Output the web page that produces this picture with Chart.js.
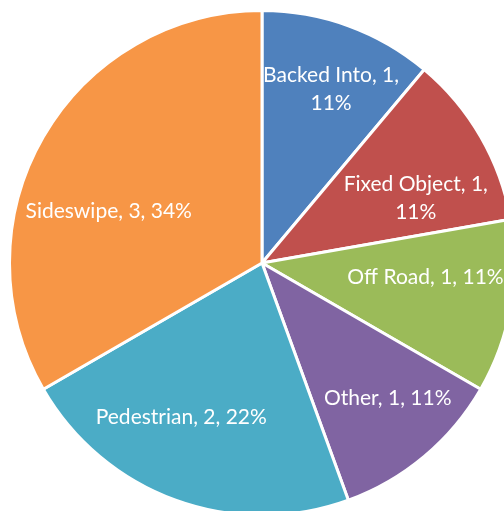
<!DOCTYPE html>
<html><head><meta charset="utf-8">
<script src="https://cdn.jsdelivr.net/npm/chart.js@4"></script>
<style>
html,body{margin:0;padding:0;overflow:hidden;background:#fff;width:504px;height:511px;position:relative}
#wrap{position:absolute;left:8px;top:9px;width:508px;height:508px}
</style></head>
<body><div id="wrap"><canvas id="c"></canvas></div>
<script>
const categories = ['Backed Into', 'Fixed Object', 'Off Road', 'Other', 'Pedestrian', 'Sideswipe'];
const counts = [1, 1, 1, 1, 2, 3];
const percentLabels = ['11%', '11%', '11%', '11%', '22%', '34%'];
const sliceColors = ['#4F81BD', '#C0504D', '#9BBB59', '#8064A2', '#4BACC6', '#F79646'];

// label placement relative to each slice (angle shift in degrees, radius fraction, wrap after value)
const labelLayout = [
  {da: 1.7, rf: 0.74, wrap: true},
  {da: 7.3, rf: 0.66, wrap: true},
  {da: -5, rf: 0.65, wrap: false},
  {da: -3, rf: 0.73, wrap: false},
  {da: 7.6, rf: 0.69, wrap: false},
  {da: -11.5, rf: 0.64, wrap: false}
];

const labelPlugin = {
  id: 'pieLabels',
  afterDatasetsDraw(chart) {
    const ctx = chart.ctx;
    const meta = chart.getDatasetMeta(0);
    ctx.save();
    ctx.font = '21px Lato';
    ctx.fillStyle = '#ffffff';
    ctx.textAlign = 'center';
    ctx.textBaseline = 'middle';
    meta.data.forEach((arc, i) => {
      const p = arc.getProps(['x', 'y', 'startAngle', 'endAngle', 'outerRadius'], true);
      const L = labelLayout[i];
      const mid = (p.startAngle + p.endAngle) / 2 + L.da * Math.PI / 180;
      const cx = p.x + Math.cos(mid) * L.rf * p.outerRadius;
      const cy = p.y + Math.sin(mid) * L.rf * p.outerRadius;
      const lines = L.wrap
        ? [categories[i] + ', ' + counts[i] + ',', percentLabels[i]]
        : [categories[i] + ', ' + counts[i] + ', ' + percentLabels[i]];
      const lh = 28;
      lines.forEach((t, k) => {
        ctx.fillText(t, cx, cy + (k - (lines.length - 1) / 2) * lh);
      });
    });
    ctx.restore();
  }
};

new Chart(document.getElementById('c'), {
  type: 'pie',
  data: {
    labels: categories,
    datasets: [{
      data: counts,
      backgroundColor: sliceColors,
      borderColor: '#ffffff',
      borderWidth: 3
    }]
  },
  options: {
    responsive: true,
    maintainAspectRatio: false,
    devicePixelRatio: 1,
    animation: false,
    layout: {padding: 0},
    plugins: {legend: {display: false}, tooltip: {enabled: false}}
  },
  plugins: [labelPlugin]
});
</script>
</body></html>
